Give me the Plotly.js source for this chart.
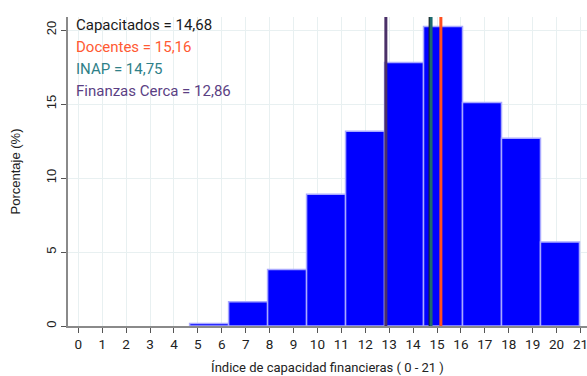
<!DOCTYPE html>
<html>
<head>
<meta charset="utf-8">
<script src="https://cdn.plot.ly/plotly-3.0.1.min.js"></script>
<style>html,body{margin:0;padding:0;background:#fff;}#chart{width:587px;height:376px;}</style>
</head>
<body>
<div id="chart"></div>
<script>
// Histogram bins (centres) and percentages
const binCenters = [5.47, 7.10, 8.73, 10.36, 11.99, 13.62, 15.25, 16.88, 18.51, 20.14];
const percentages = [0.17, 1.64, 3.82, 8.9, 13.16, 17.8, 20.24, 15.1, 12.69, 5.67];
const binWidth = 1.63;

// Group means
const groupNames = ["Capacitados", "Docentes", "INAP", "Finanzas Cerca"];
const groupMeans = [14.68, 15.16, 14.75, 12.86];
const groupLabels = ["14,68", "15,16", "14,75", "12,86"];
const lineColors = ["#1a1a1a", "#ff4f1f", "#1c6b6e", "#4a3068"];
const lineWidths = [1.5, 3, 3, 3];
const textColors = ["#1a1a1a", "#ff5a33", "#2f8088", "#5b3f84"];

const xTicks = Array.from({length: 22}, (_, i) => i);

const traces = [{
  type: "bar",
  x: binCenters,
  y: percentages,
  width: binWidth,
  marker: {color: "#0000ff", line: {color: "#a9a9ff", width: 1.5}},
  hoverinfo: "x+y"
}];

// draw black first, then others so teal covers black
const order = [0, 3, 2, 1];
const shapes = order.map(i => ({
  type: "line", xref: "x", yref: "paper",
  x0: groupMeans[i], x1: groupMeans[i], y0: 0, y1: 1,
  line: {color: lineColors[i], width: lineWidths[i]}, layer: "above"
}));

const annotations = groupNames.map((n, i) => ({
  xref: "paper", yref: "paper", x: 0.012, y: 1 - i * 0.072 - 0.025,
  xanchor: "left", yanchor: "middle", showarrow: false,
  text: n + " = " + groupLabels[i],
  font: {family: "Roboto, sans-serif", size: 15, color: textColors[i]}
}));

const layout = {
  width: 587, height: 376,
  margin: {l: 68, r: 0, t: 17, b: 50},
  paper_bgcolor: "#ffffff", plot_bgcolor: "#ffffff",
  showlegend: false,
  bargap: 0,
  xaxis: {
    range: [-0.43, 21.27],
    tickmode: "array", tickvals: xTicks, ticktext: xTicks.map(String),
    ticklabeloverflow: "allow",
    ticks: "outside", ticklen: 5, tickcolor: "#555", tickwidth: 1,
    showgrid: true, gridcolor: "#e8f0f1", gridwidth: 1,
    zeroline: false,
    showline: true, linecolor: "#8a8a8a", linewidth: 2,
    tickfont: {family: "Roboto, sans-serif", size: 13.5, color: "#222"},
    title: {text: "Índice de capacidad financieras ( 0 - 21 )", standoff: 12,
      font: {family: "Roboto, sans-serif", size: 13, color: "#222"}}
  },
  yaxis: {
    range: [0, 20.88],
    tickmode: "array", tickvals: [0, 5, 10, 15, 20],
    tickangle: -90,
    ticks: "outside", ticklen: 5, tickcolor: "#555", tickwidth: 1,
    showgrid: true, gridcolor: "#e8f0f1", gridwidth: 1,
    zeroline: false,
    showline: true, linecolor: "#8a8a8a", linewidth: 2,
    tickfont: {family: "Liberation Sans, Arial, sans-serif", size: 13, color: "#222"},
    title: {text: "Porcentaje (%)", standoff: 20,
      font: {family: "Liberation Sans, Arial, sans-serif", size: 13, color: "#222"}}
  },
  shapes: shapes,
  annotations: annotations
};

Plotly.newPlot("chart", traces, layout, {displayModeBar: false, staticPlot: true});
</script>
</body>
</html>
